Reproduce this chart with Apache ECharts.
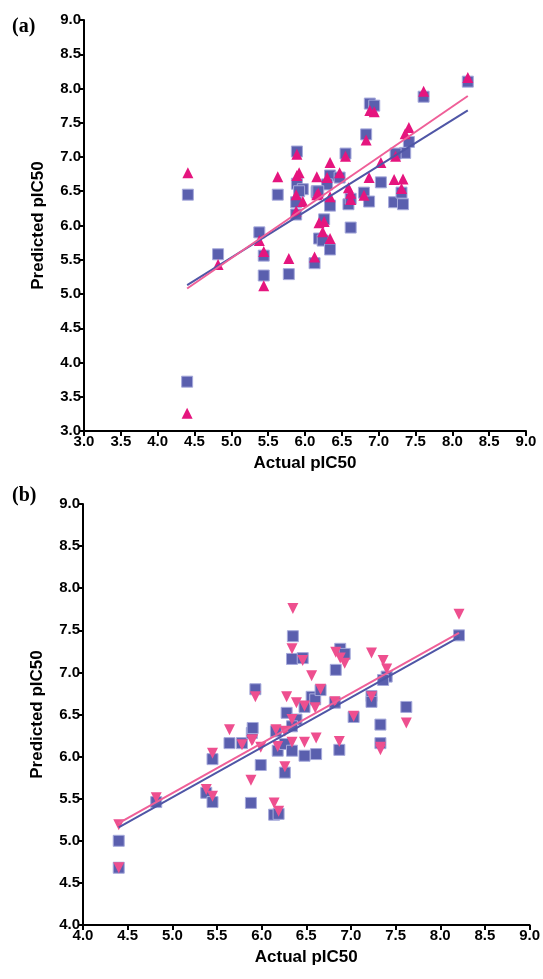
<!DOCTYPE html>
<html>
<head>
<meta charset="utf-8">
<script src="https://cdn.jsdelivr.net/npm/echarts@6/dist/echarts.min.js"></script>
<style>html,body{margin:0;padding:0;background:#fff}#c{width:543px;height:979px}</style>
</head>
<body>
<div id="c"></div>
<script>
// ---- Panel (a) data ----
const actualA = [4.41,4.40,4.82,5.38,5.44,5.44,5.63,5.78,5.89,5.89,5.88,5.88,5.97,6.13,6.19,6.26,6.24,6.34,6.62,6.34,6.16,6.59,6.80,6.87,7.21,7.33,7.31,7.03,7.61,8.21,6.88,6.94,6.83,7.41,7.36,7.23,6.55,6.34,6.16,6.30,6.47,5.92,6.62,6.18];
const predA_sq = [6.45,3.72,5.58,5.90,5.56,5.27,6.45,5.29,7.08,6.61,6.34,6.16,6.53,5.45,5.81,6.09,5.78,5.65,5.97,6.29,6.48,6.31,6.48,6.35,6.34,6.31,6.48,6.63,7.88,8.10,7.78,7.75,7.33,7.22,7.06,7.05,7.05,6.73,6.50,6.60,6.70,6.50,6.39,6.50];
const predA_tri = [6.77,3.26,5.43,5.78,5.62,5.12,6.71,5.52,7.04,6.73,6.45,6.21,6.35,5.54,6.04,6.06,5.91,5.81,6.38,6.42,6.45,6.55,6.44,6.70,6.67,6.68,6.54,6.92,7.96,8.16,7.68,7.66,7.25,7.43,7.34,7.01,7.01,6.92,6.71,6.70,6.77,6.77,6.47,6.47];
const fitA_sq = [[4.40,5.13],[8.21,7.68]];
const fitA_tri = [[4.40,5.08],[8.21,7.89]];

// ---- Panel (b) data ----
const actualB = [4.40,4.40,4.82,5.38,5.45,5.45,5.64,5.78,5.88,5.89,5.90,5.93,5.99,6.14,6.19,6.16,6.18,6.26,6.28,6.26,6.34,6.35,6.34,6.46,6.39,6.34,6.48,6.48,6.56,6.60,6.61,6.66,6.82,6.83,6.88,6.93,6.87,7.03,7.23,7.23,7.33,7.40,7.36,7.33,7.62,8.21];
const predB_sq = [5.00,4.68,5.46,5.57,5.46,5.97,6.16,6.16,5.45,6.28,6.34,6.80,5.90,5.31,5.32,6.30,6.07,5.81,6.52,6.15,6.07,7.43,7.16,7.17,6.44,6.36,6.59,6.01,6.71,6.68,6.03,6.79,6.64,7.03,7.28,7.22,6.08,6.47,6.72,6.65,6.38,6.95,6.91,6.16,6.59,7.44];
const predB_tri = [5.19,4.68,5.51,5.61,5.53,6.04,6.32,6.14,5.72,6.19,6.20,6.71,6.11,5.45,5.35,6.32,6.12,5.88,6.71,6.30,6.17,7.76,7.28,7.14,6.64,6.44,6.60,6.17,6.96,6.58,6.22,6.80,6.65,7.24,7.17,7.11,6.18,6.48,7.23,6.71,6.11,7.04,7.14,6.08,6.40,7.69];
const fitB_sq = [[4.40,5.16],[8.21,7.42]];
const fitB_tri = [[4.40,5.21],[8.21,7.47]];

const xLabelName = 'Actual pIC50';
const yLabelName = 'Predicted pIC50';

const pair = (xs, ys) => xs.map((x, i) => [x, ys[i]]);

const FONT = 'Liberation Sans';
const blue = '#5A5FAE';
const blueBorder = '#A6AADB';
const magenta = '#E5157E';
const pink = '#EE4F8F';
const lineBlue = '#4F56A6';
const linePink = '#EF5F98';

function axis(min, max, gridIndex, isX) {
  return {
    type: 'value', gridIndex, min, max, interval: 0.5,
    name: isX ? xLabelName : yLabelName,
    nameLocation: 'middle',
    nameGap: isX ? 24 : 37,
    nameTextStyle: { fontFamily: FONT, fontWeight: 'bold', fontSize: 17, color: '#000' },
    axisLine: { show: true, onZero: false, lineStyle: { color: '#000', width: 2 } },
    axisTick: { show: true, length: 5, lineStyle: { color: '#000', width: 2 } },
    axisLabel: { fontFamily: FONT, fontWeight: 'bold', fontSize: 15, color: '#000', margin: 3,
      formatter: v => v.toFixed(1) },
    splitLine: { show: false }
  };
}

const chart = echarts.init(document.getElementById('c'), null, { renderer: 'canvas' });
chart.setOption({
  animation: false,
  backgroundColor: '#fff',
  grid: [
    { left: 84, right: 17, top: 20, height: 411 },
    { left: 83, right: 11, top: 504, height: 421 }
  ],
  xAxis: [axis(3, 9, 0, true), axis(4, 9, 1, true)],
  yAxis: [axis(3, 9, 0, false), axis(4, 9, 1, false)],
  graphic: [
    { type: 'text', left: 12, top: 17, style: { text: '(a)', font: 'bold 20px "Liberation Serif"', fill: '#000' } },
    { type: 'text', left: 12, top: 486, style: { text: '(b)', font: 'bold 20px "Liberation Serif"', fill: '#000' } }
  ],
  series: [
    { type: 'scatter', xAxisIndex: 0, yAxisIndex: 0, symbol: 'rect', symbolSize: 11,
      itemStyle: { color: blue, borderColor: blueBorder, borderWidth: 1, opacity: 1 }, data: pair(actualA, predA_sq) },
    { type: 'scatter', xAxisIndex: 0, yAxisIndex: 0, symbol: 'triangle', symbolSize: 11,
      itemStyle: { color: magenta, opacity: 1 }, data: pair(actualA, predA_tri) },
    { type: 'line', xAxisIndex: 0, yAxisIndex: 0, showSymbol: false, symbol: 'none',
      lineStyle: { color: lineBlue, width: 2 }, data: fitA_sq },
    { type: 'line', xAxisIndex: 0, yAxisIndex: 0, showSymbol: false, symbol: 'none',
      lineStyle: { color: linePink, width: 2 }, data: fitA_tri },

    { type: 'scatter', xAxisIndex: 1, yAxisIndex: 1, symbol: 'rect', symbolSize: 11,
      itemStyle: { color: blue, borderColor: blueBorder, borderWidth: 1, opacity: 1 }, data: pair(actualB, predB_sq) },
    { type: 'scatter', xAxisIndex: 1, yAxisIndex: 1, symbol: 'triangle', symbolSize: 11, symbolRotate: 180,
      itemStyle: { color: pink, opacity: 1 }, data: pair(actualB, predB_tri) },
    { type: 'line', xAxisIndex: 1, yAxisIndex: 1, showSymbol: false, symbol: 'none',
      lineStyle: { color: lineBlue, width: 2 }, data: fitB_sq },
    { type: 'line', xAxisIndex: 1, yAxisIndex: 1, showSymbol: false, symbol: 'none',
      lineStyle: { color: linePink, width: 2 }, data: fitB_tri }
  ]
});
</script>
</body>
</html>
